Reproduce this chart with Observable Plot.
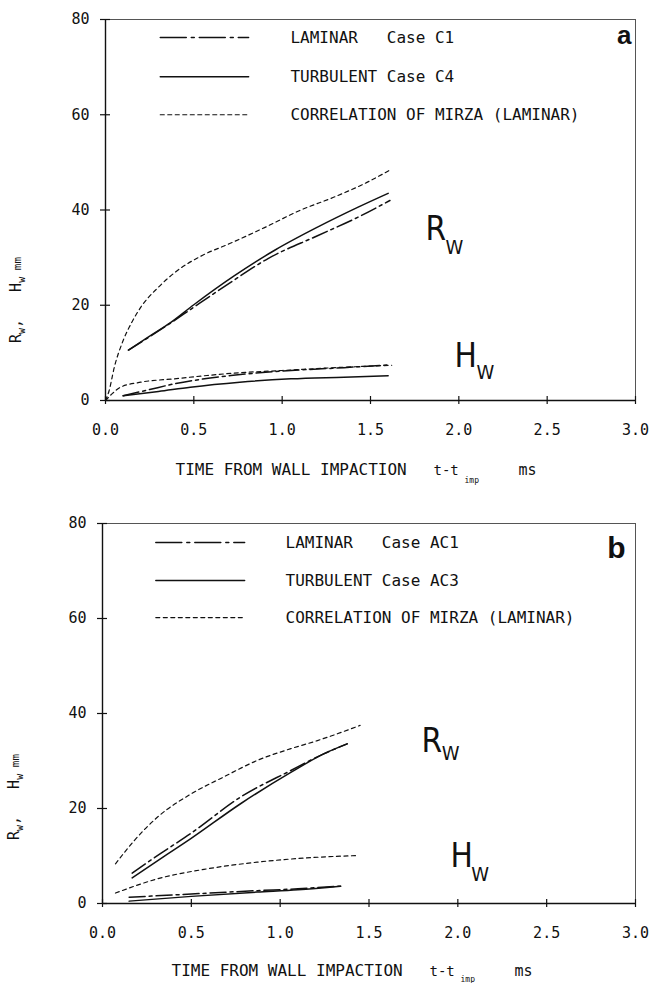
<!DOCTYPE html>
<html>
<head>
<meta charset="utf-8">
<script src="https://cdn.jsdelivr.net/npm/d3@7"></script>
<script src="https://cdn.jsdelivr.net/npm/@observablehq/plot@0.6"></script>
<style>
  body { margin: 0; background: #fff; }
  #chart svg { display: block; }
</style>
</head>
<body>
<div id="chart"></div>
<script>
// ---- axes ----
const xTicks = [0, 0.5, 1, 1.5, 2, 2.5, 3];
const yTicks = [0, 20, 40, 60, 80];

// ---- legend entries ----
const legendA = ["LAMINAR\u00a0\u00a0\u00a0Case C1", "TURBULENT Case C4", "CORRELATION OF MIRZA (LAMINAR)"];
const legendB = ["LAMINAR\u00a0\u00a0\u00a0Case AC1", "TURBULENT Case AC3", "CORRELATION OF MIRZA (LAMINAR)"];

// ---- panel a: [t - t_imp (ms), value (mm)] ----
const aLaminarR   = [[0.13,10.6],[0.25,13.4],[0.37,16.3],[0.5,19.6],[0.7,24.6],[0.92,29.8],[1.2,34.6],[1.43,38.5],[1.61,42.0]];
const aTurbulentR = [[0.13,10.6],[0.25,13.5],[0.37,16.4],[0.5,20.1],[0.73,26.2],[0.96,31.6],[1.2,36.4],[1.43,40.6],[1.6,43.5]];
const aMirzaR     = [[0.0,0.0],[0.02,2.0],[0.05,7.0],[0.1,12.6],[0.15,16.5],[0.2,19.6],[0.3,23.8],[0.4,27.1],[0.55,30.5],[0.7,32.9],[0.9,36.3],[1.1,39.9],[1.3,42.8],[1.48,45.8],[1.62,48.6]];
const aLaminarH   = [[0.1,1.0],[0.25,2.3],[0.39,3.5],[0.55,4.5],[0.71,5.25],[1.05,6.3],[1.35,6.9],[1.61,7.5]];
const aTurbulentH = [[0.1,1.0],[0.3,1.9],[0.48,2.8],[0.76,3.85],[1.05,4.55],[1.35,4.9],[1.6,5.2]];
const aMirzaH     = [[0.0,0.0],[0.04,1.5],[0.085,2.8],[0.2,3.85],[0.39,4.55],[0.575,5.25],[0.71,5.7],[1.0,6.3],[1.3,6.9],[1.62,7.4]];

// ---- panel b ----
const bLaminarR   = [[0.167,6.4],[0.33,10.6],[0.495,14.7],[0.777,22.4],[1.06,28.0],[1.245,31.5],[1.377,33.6]];
const bTurbulentR = [[0.167,5.4],[0.33,9.5],[0.495,13.6],[0.777,21.0],[1.06,27.6],[1.245,31.5],[1.377,33.6]];
const bMirzaR     = [[0.073,8.35],[0.18,13.3],[0.31,18.2],[0.5,23.1],[0.68,26.6],[0.87,30.1],[1.06,32.6],[1.21,34.3],[1.45,37.5]];
const bLaminarH   = [[0.15,1.3],[0.5,2.0],[0.87,2.7],[1.1,3.1],[1.34,3.65]];
const bTurbulentH = [[0.15,0.5],[0.5,1.5],[0.87,2.4],[1.1,2.9],[1.34,3.65]];
const bMirzaH     = [[0.073,2.2],[0.31,5.2],[0.59,7.3],[0.87,8.7],[1.15,9.6],[1.44,10.1]];

// line style per case type
const styles = {
  laminar:   {strokeWidth: 1.5, strokeDasharray: "16,4,3,4"},
  turbulent: {strokeWidth: 1.5, strokeDasharray: null},
  mirza:     {strokeWidth: 1.2, strokeDasharray: "4,3.5"}
};
const kinds = ["laminar", "turbulent", "mirza"];

const mono = "'DejaVu Sans Mono', monospace";
const narrow = "'Liberation Sans Narrow', 'DejaVu Sans Condensed', sans-serif";
const ink = "#111";

function curve(pts, kind) {
  const s = styles[kind];
  return Plot.line(pts, {x: d => d[0], y: d => d[1], stroke: ink, curve: "monotone-x",
    strokeWidth: s.strokeWidth, strokeDasharray: s.strokeDasharray});
}

function panel(opt) {
  const m = opt.margins;
  const marks = [
    Plot.frame({stroke: "#555", strokeWidth: 1}),
    Plot.ruleX([0], {stroke: ink, strokeWidth: 1.4}),
    Plot.ruleY([0], {stroke: ink, strokeWidth: 1.4}),
    // cross-shaped tick marks on both axes
    Plot.ruleX(xTicks, {x: d => d, y1: 0, y2: 0, insetTop: -4, insetBottom: -4, stroke: ink, strokeWidth: 1.2}),
    Plot.ruleY(yTicks, {y: d => d, x1: 0, x2: 0, insetLeft: -5, insetRight: -5, stroke: ink, strokeWidth: 1.2}),
    Plot.axisX({ticks: xTicks, tickFormat: d3.format(".1f"), tickSize: 0, tickPadding: 24, label: null,
      fontSize: 15, fontFamily: mono, fill: ink}),
    Plot.axisY({ticks: yTicks, tickSize: 0, tickPadding: 16, label: null,
      fontSize: 15, fontFamily: mono, fill: ink}),
    ...opt.series.map(([pts, kind]) => curve(pts, kind)),
    // legend samples and texts
    ...kinds.map((k, i) => {
      const s = styles[k];
      return Plot.line([[opt.legendX[0], opt.legendRows[i]], [opt.legendX[1], opt.legendRows[i]]],
        {x: d => d[0], y: d => d[1], stroke: ink, strokeWidth: s.strokeWidth,
         strokeDasharray: k === "laminar" ? "26,5,3,5" : s.strokeDasharray});
    }),
    Plot.text(opt.legend, {x: opt.legendTextX, y: (d, i) => opt.legendRows[i], text: d => d,
      textAnchor: "start", lineAnchor: "middle", fontSize: 16, fontFamily: mono, fill: ink}),
    // panel letter
    Plot.text([opt.letter], {frameAnchor: "top-right", text: d => d, textAnchor: "end", lineAnchor: "bottom",
      dx: opt.letterDx, dy: opt.letterDy, fontSize: opt.letterSize, fontWeight: "bold",
      fontFamily: "'Liberation Sans', Arial, sans-serif", fill: ink}),
    // curve family labels R_W and H_W
    Plot.text(opt.mainLabels, {x: d => d.x, y: d => d.y, text: d => d.t, textAnchor: "start",
      lineAnchor: "bottom", fontSize: 33, fontFamily: narrow, fill: ink}),
    Plot.text(opt.subLabels, {x: d => d.x, y: d => d.y, text: d => d.t, textAnchor: "start",
      lineAnchor: "bottom", fontSize: 20, fontFamily: narrow, fill: ink}),
    // x axis title
    Plot.text(["TIME FROM WALL IMPACTION"], {frameAnchor: "bottom-left", text: d => d, textAnchor: "start",
      lineAnchor: "bottom", dx: opt.titleDx, dy: opt.titleDy, fontSize: 16, fontFamily: mono, fill: ink}),
    Plot.text(["t-t"], {frameAnchor: "bottom-left", text: d => d, textAnchor: "start",
      lineAnchor: "bottom", dx: opt.titleDx + 258, dy: opt.titleDy, fontSize: 14, fontFamily: mono, fill: ink}),
    Plot.text(["imp"], {frameAnchor: "bottom-left", text: d => d, textAnchor: "start",
      lineAnchor: "bottom", dx: opt.titleDx + 289, dy: opt.titleDy + opt.subDrop, fontSize: 8, fontFamily: mono, fill: ink}),
    Plot.text(["ms"], {frameAnchor: "bottom-left", text: d => d, textAnchor: "start",
      lineAnchor: "bottom", dx: opt.titleDx + 343, dy: opt.titleDy, fontSize: 15, fontFamily: mono, fill: ink})
  ];
  const svg = Plot.plot({
    width: 650, height: opt.height,
    marginLeft: m[0], marginRight: m[1], marginTop: m[2], marginBottom: m[3],
    x: {domain: [0, 3]},
    y: {domain: [0, 80]},
    style: {background: "#fff"},
    marks
  });
  // rotated y-axis title with subscripts
  const t = d3.select(svg).append("text")
    .attr("transform", `translate(${opt.yTitle[0]},${opt.yTitle[1]}) rotate(-90)`)
    .attr("text-anchor", "middle")
    .style("font-family", mono).style("font-size", "15px").attr("fill", ink);
  t.append("tspan").text("R");
  t.append("tspan").attr("dy", 4).style("font-size", "10px").text("w");
  t.append("tspan").attr("dy", -4).text(",\u00a0\u00a0\u00a0");
  t.append("tspan").text("H");
  t.append("tspan").attr("dy", 4).style("font-size", "10px").text("w");
  t.append("tspan").attr("dy", -4).style("font-size", "11px").text("\u00a0mm");
  return svg;
}

const chart = document.getElementById("chart");

chart.appendChild(panel({
  height: 490, margins: [105, 15, 19, 90],
  series: [[aLaminarR, "laminar"], [aTurbulentR, "turbulent"], [aMirzaR, "mirza"],
           [aLaminarH, "laminar"], [aTurbulentH, "turbulent"], [aMirzaH, "mirza"]],
  legend: legendA, legendX: [0.31, 0.81], legendRows: [76.2, 68.0, 60.0], legendTextX: 1.047,
  letter: "a", letterDx: -4, letterDy: 24, letterSize: 26,
  mainLabels: [{t: "R", x: 1.811, y: 33.6}, {t: "H", x: 1.975, y: 6.93}],
  subLabels: [{t: "W", x: 1.925, y: 30.66}, {t: "W", x: 2.1, y: 4.41}],
  titleDx: 70, titleDy: 74, subDrop: 8,
  yTitle: [21, 300]
}));

chart.appendChild(panel({
  height: 493, margins: [102, 15, 33, 80],
  series: [[bLaminarR, "laminar"], [bTurbulentR, "turbulent"], [bMirzaR, "mirza"],
           [bLaminarH, "laminar"], [bTurbulentH, "turbulent"], [bMirzaH, "mirza"]],
  legend: legendB, legendX: [0.30, 0.80], legendRows: [76.0, 68.0, 60.2], legendTextX: 1.03,
  letter: "b", letterDx: -10, letterDy: 34, letterSize: 30,
  mainLabels: [{t: "R", x: 1.795, y: 31.8}, {t: "H", x: 1.959, y: 7.58}],
  subLabels: [{t: "W", x: 1.91, y: 30.3}, {t: "W", x: 2.075, y: 4.84}],
  titleDx: 69, titleDy: 72, subDrop: 6,
  yTitle: [19, 307]
}));
</script>
</body>
</html>
